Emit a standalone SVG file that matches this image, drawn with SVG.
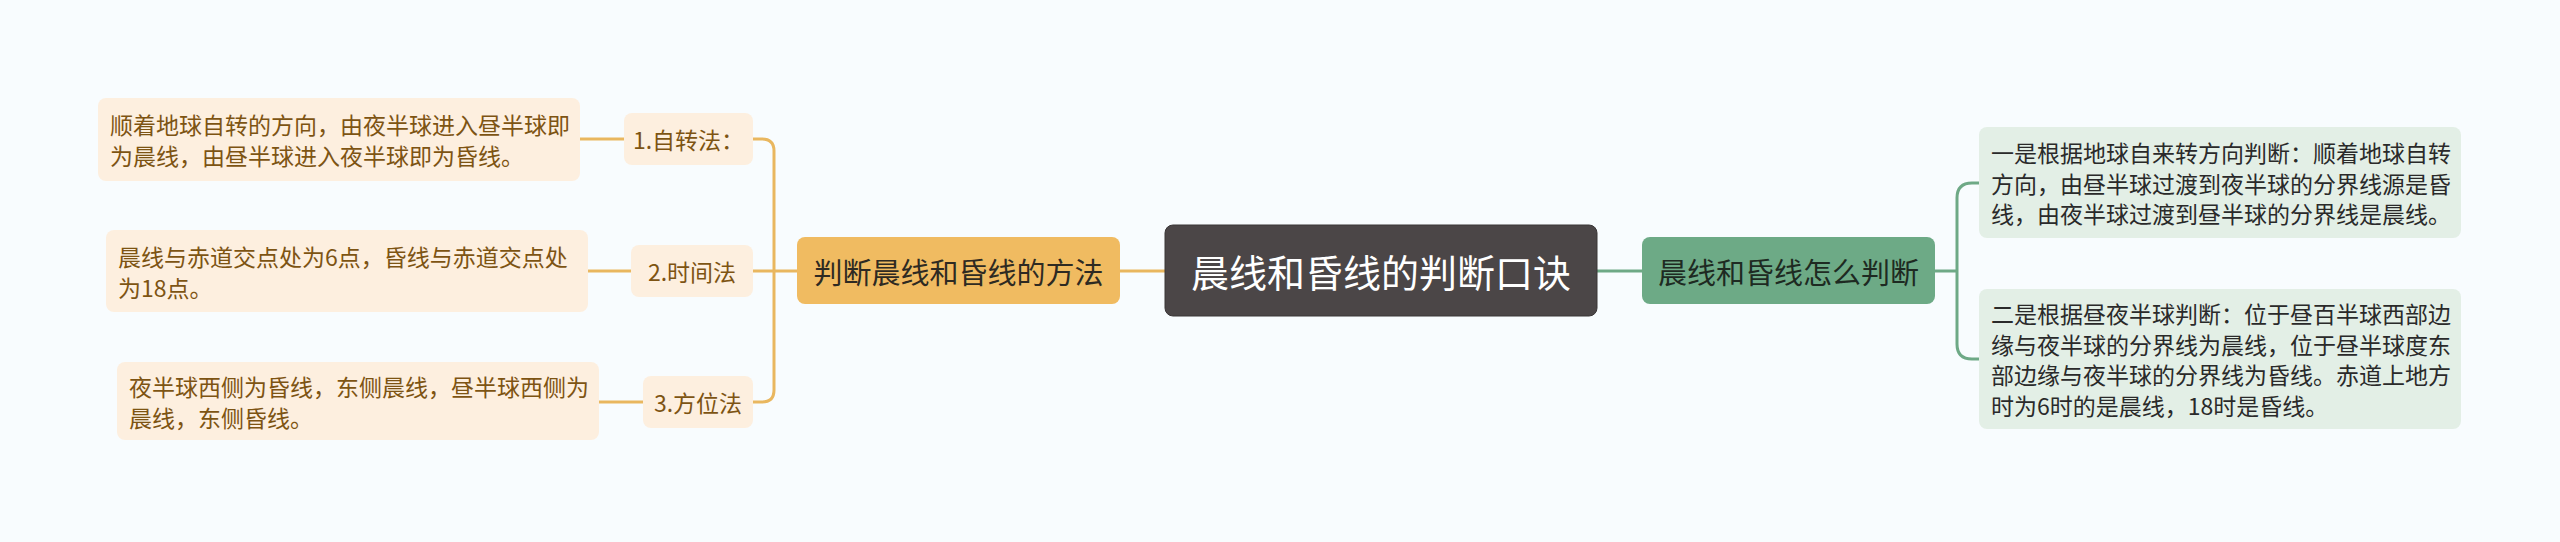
<svg xmlns="http://www.w3.org/2000/svg" width="2560" height="542" viewBox="0 0 2560 542">
<style>
text{font-family:"Noto Sans CJK SC","Noto Sans",sans-serif;dominant-baseline:central}
.lc{fill:none;stroke:#e9b75f;stroke-width:3}
.gc{fill:none;stroke:#6ea986;stroke-width:3}
.leafO{fill:#fdefdf}
.leafG{fill:#e3efe6}
.tO{fill:#7d5413;font-size:23px}
.tG{fill:#2a2a2a;font-size:23px}
</style>
<rect width="2560" height="542" fill="#f8fcfe"/>
<g id="connectors">
<path class="lc" d="M1120 271H1165"/>
<path class="lc" d="M797 271H774"/>
<path class="lc" d="M753 139H762Q774 139 774 151V390Q774 402 762 402H753"/>
<path class="lc" d="M753 271H774"/>
<path class="lc" d="M580 139H624"/>
<path class="lc" d="M588 271H631"/>
<path class="lc" d="M599 402H643"/>
<path class="gc" d="M1597 271H1642"/>
<path class="gc" d="M1935 271H1957"/>
<path class="gc" d="M1979 183H1972Q1957 183 1957 198V344Q1957 359 1972 359H1979"/>
</g>
<g id="center">
<rect x="1165" y="225" width="432" height="91" rx="8" fill="#4b4647" stroke="#3a3637" stroke-width="1"/>
<text x="1381" y="270.5" text-anchor="middle" font-size="38" fill="#ffffff">晨线和昏线的判断口诀</text>
</g>
<g id="left-main">
<rect x="797" y="237" width="323" height="67" rx="8" fill="#f0bb61"/>
<text x="958.5" y="270.5" text-anchor="middle" font-size="29" fill="#2e2a22">判断晨线和昏线的方法</text>
</g>
<g id="right-main">
<rect x="1642" y="237" width="293" height="67" rx="8" fill="#6daa86"/>
<text x="1788.5" y="270.5" text-anchor="middle" font-size="29" fill="#1e2a22">晨线和昏线怎么判断</text>
</g>
<g id="label1">
<rect x="624" y="113" width="129" height="52" rx="8" class="leafO"/>
<text x="688.5" y="139" text-anchor="middle" class="tO" font-size="22">1.自转法：</text>
</g>
<g id="label2">
<rect x="631" y="245" width="122" height="52" rx="8" class="leafO"/>
<text x="692" y="271" text-anchor="middle" class="tO">2.时间法</text>
</g>
<g id="label3">
<rect x="643" y="376" width="110" height="52" rx="8" class="leafO"/>
<text x="698" y="402" text-anchor="middle" class="tO">3.方位法</text>
</g>
<g id="leaf1">
<rect x="98" y="98" width="482" height="83" rx="8" class="leafO"/>
<text x="110" y="124" class="tO">顺着地球自转的方向，由夜半球进入昼半球即</text>
<text x="110" y="155" class="tO">为晨线，由昼半球进入夜半球即为昏线。</text>
</g>
<g id="leaf2">
<rect x="106" y="230" width="482" height="82" rx="8" class="leafO"/>
<text x="118" y="256" class="tO">晨线与赤道交点处为6点，昏线与赤道交点处</text>
<text x="118" y="287" class="tO">为18点。</text>
</g>
<g id="leaf3">
<rect x="117" y="362" width="482" height="78" rx="8" class="leafO"/>
<text x="129" y="386" class="tO">夜半球西侧为昏线，东侧晨线，昼半球西侧为</text>
<text x="129" y="417" class="tO">晨线，东侧昏线。</text>
</g>
<g id="leafR1">
<rect x="1979" y="127" width="482" height="111" rx="8" class="leafG"/>
<text x="1991" y="152" class="tG">一是根据地球自来转方向判断：顺着地球自转</text>
<text x="1991" y="183" class="tG">方向，由昼半球过渡到夜半球的分界线源是昏</text>
<text x="1991" y="213" class="tG">线，由夜半球过渡到昼半球的分界线是晨线。</text>
</g>
<g id="leafR2">
<rect x="1979" y="289" width="482" height="140" rx="8" class="leafG"/>
<text x="1991" y="313" class="tG">二是根据昼夜半球判断：位于昼百半球西部边</text>
<text x="1991" y="344" class="tG">缘与夜半球的分界线为晨线，位于昼半球度东</text>
<text x="1991" y="374" class="tG">部边缘与夜半球的分界线为昏线。赤道上地方</text>
<text x="1991" y="405" class="tG">时为6时的是晨线，18时是昏线。</text>
</g>
</svg>
